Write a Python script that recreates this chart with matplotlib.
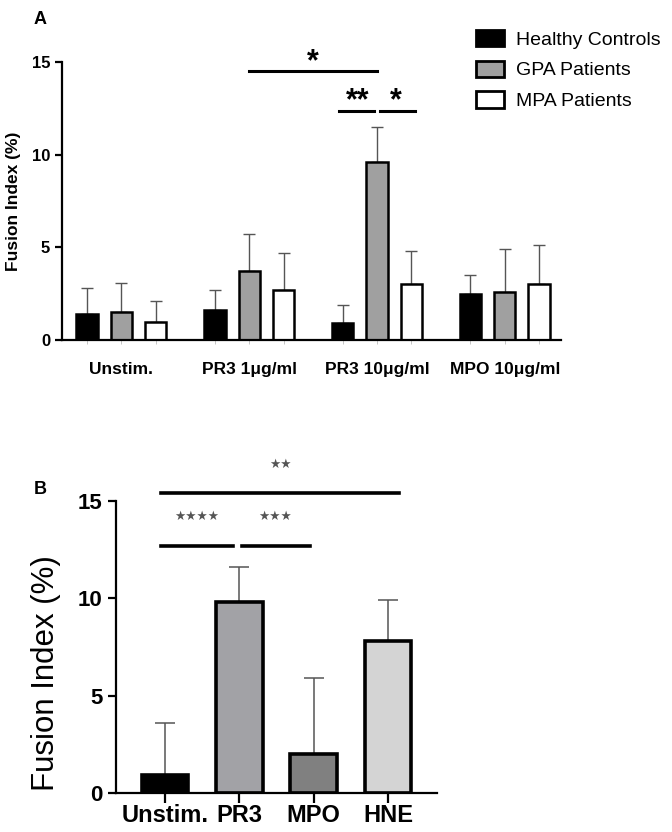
import matplotlib
matplotlib.use("Agg")
import matplotlib.pyplot as plt
import numpy as np
from matplotlib.patches import Patch

plt.rcParams['font.family'] = ['Liberation Sans', 'DejaVu Sans']

# ---- Panel A data ----
groups_a = ["Unstim.", "PR3 1\u03bcg/ml", "PR3 10\u03bcg/ml", "MPO 10\u03bcg/ml"]
series_a = ["Healthy Controls", "GPA Patients", "MPA Patients"]
hc_mean = [1.4, 1.6, 0.9, 2.5]
gpa_mean = [1.5, 3.7, 9.6, 2.6]
mpa_mean = [1.0, 2.7, 3.0, 3.0]
hc_top = [2.8, 2.7, 1.9, 3.5]
gpa_top = [3.1, 5.7, 11.5, 4.9]
mpa_top = [2.1, 4.7, 4.8, 5.1]
colors_a = ["#000000", "#a0a0a0", "#ffffff"]

# ---- Panel B data ----
cats_b = ["Unstim.", "PR3", "MPO", "HNE"]
mean_b = [0.9, 9.8, 2.0, 7.8]
top_b = [3.6, 11.6, 5.9, 9.9]
colors_b = ["#000000", "#a2a2a6", "#808080", "#d4d4d4"]

fig = plt.figure(figsize=(6.72, 8.32), dpi=100)

# ================= Panel A =================
axA = fig.add_axes([0.0923, 0.5913, 0.7426, 0.3342])
gsp = 3.72
means = [hc_mean, gpa_mean, mpa_mean]
tops = [hc_top, gpa_top, mpa_top]
centers = np.arange(len(groups_a)) * gsp
for si in range(3):
    xs = centers + (si - 1)
    m = np.array(means[si])
    t = np.array(tops[si])
    axA.errorbar(xs, m, yerr=[np.zeros_like(m), t - m], fmt='none',
                 ecolor='#555555', elinewidth=1.0, capsize=4, capthick=1.0, zorder=1)
    axA.bar(xs, m, width=0.62, color=colors_a[si], edgecolor='black',
            linewidth=1.8, zorder=2)
axA.set_xlim(-1.73, 12.8)
axA.set_ylim(0, 15)
axA.set_yticks([0, 5, 10, 15])
axA.spines['top'].set_visible(False)
axA.spines['right'].set_visible(False)
axA.spines['left'].set_linewidth(1.6)
axA.spines['bottom'].set_linewidth(1.6)
axA.spines['left'].set_bounds(0, 15)
axA.tick_params(axis='y', width=1.6, length=5, labelsize=12)
for lb in axA.get_yticklabels():
    lb.set_fontweight('bold')
allx = np.concatenate([centers + d for d in (-1, 0, 1)])
axA.set_xticks(np.sort(allx))
axA.set_xticklabels([])
axA.tick_params(axis='x', length=3, width=0.6, color='#bbbbbb')
for c, g in zip(centers, groups_a):
    axA.text(c, -1.6, g, ha='center', va='center', fontsize=12.5,
             fontweight='bold', transform=axA.transData, clip_on=False)
axA.set_ylabel("Fusion Index (%)", fontsize=12.5, fontweight='bold', labelpad=8)
# significance A
lw_sig = 2.2
x1 = centers[1]; x2 = centers[2]
axA.plot([x1, x2], [14.5, 14.5], color='black', lw=lw_sig, clip_on=False)
axA.text((x1 + x2) / 2, 15.0, "*", ha='center', va='center', fontsize=22,
         fontweight='bold', clip_on=False)
axA.plot([centers[2] - 1.1, centers[2] - 0.08], [12.35, 12.35], color='black', lw=lw_sig)
axA.plot([centers[2] + 0.08, centers[2] + 1.1], [12.35, 12.35], color='black', lw=lw_sig)
axA.text(centers[2] - 0.55, 12.9, "**", ha='center', va='center', fontsize=22,
         fontweight='bold')
axA.text(centers[2] + 0.55, 12.9, "*", ha='center', va='center', fontsize=22,
         fontweight='bold')
fig.text(40 / 672, 1 - 20 / 832, "A", fontsize=13, fontweight='bold',
         ha='center', va='center')
# legend
handles = [Patch(facecolor=colors_a[i], edgecolor='black', linewidth=2.0,
                 label=series_a[i]) for i in range(3)]
fig.legend(handles=handles, loc='upper left', bbox_to_anchor=(468 / 672, 1 - 22 / 832),
           frameon=False, fontsize=14, handlelength=1.45, handleheight=0.9,
           labelspacing=0.62, handletextpad=0.6, borderaxespad=0)

# ================= Panel B =================
axB = fig.add_axes([0.1726, 0.0469, 0.4777, 0.3509])
xb = np.arange(len(cats_b))
mb = np.array(mean_b)
tb = np.array(top_b)
axB.errorbar(xb, mb, yerr=[np.zeros_like(mb), tb - mb], fmt='none',
             ecolor='#555555', elinewidth=1.1, capsize=7, capthick=1.1, zorder=1)
axB.bar(xb, mb, width=0.63, color=colors_b, edgecolor='black', linewidth=2.6, zorder=2)
axB.set_xlim(-0.66, 3.66)
axB.set_ylim(0, 15)
axB.set_yticks([0, 5, 10, 15])
axB.set_xticks(xb)
axB.set_xticklabels(cats_b, fontsize=17, fontweight='bold')
axB.spines['top'].set_visible(False)
axB.spines['right'].set_visible(False)
axB.spines['left'].set_linewidth(1.6)
axB.spines['bottom'].set_linewidth(1.6)
axB.spines['left'].set_bounds(0, 15)
axB.tick_params(axis='y', width=1.6, length=6, labelsize=16)
axB.tick_params(axis='x', width=1.6, length=7, pad=1)
for lb in axB.get_yticklabels():
    lb.set_fontweight('bold')
axB.set_ylabel("Fusion Index (%)", fontsize=22.5)
axB.yaxis.set_label_coords(-0.172, 0.41)
star_fam = ['DejaVu Sans']
axB.plot([-0.05, 3.15], [15.43, 15.43], color='black', lw=2.6, clip_on=False)
axB.text(1.55, 16.9, "\u2605\u2605", ha='center', va='center', fontsize=9,
         color='#555555', family=star_fam, clip_on=False)
axB.plot([-0.05, 0.92], [12.7, 12.7], color='black', lw=2.6)
axB.plot([1.04, 1.95], [12.7, 12.7], color='black', lw=2.6)
axB.text(0.43, 14.2, "\u2605\u2605\u2605\u2605", ha='center', va='center', fontsize=9,
         color='#555555', family=star_fam)
axB.text(1.48, 14.2, "\u2605\u2605\u2605", ha='center', va='center', fontsize=9,
         color='#555555', family=star_fam)
fig.text(40 / 672, 1 - 490 / 832, "B", fontsize=13, fontweight='bold',
         ha='center', va='center')

fig.savefig("out.png", dpi=100)
